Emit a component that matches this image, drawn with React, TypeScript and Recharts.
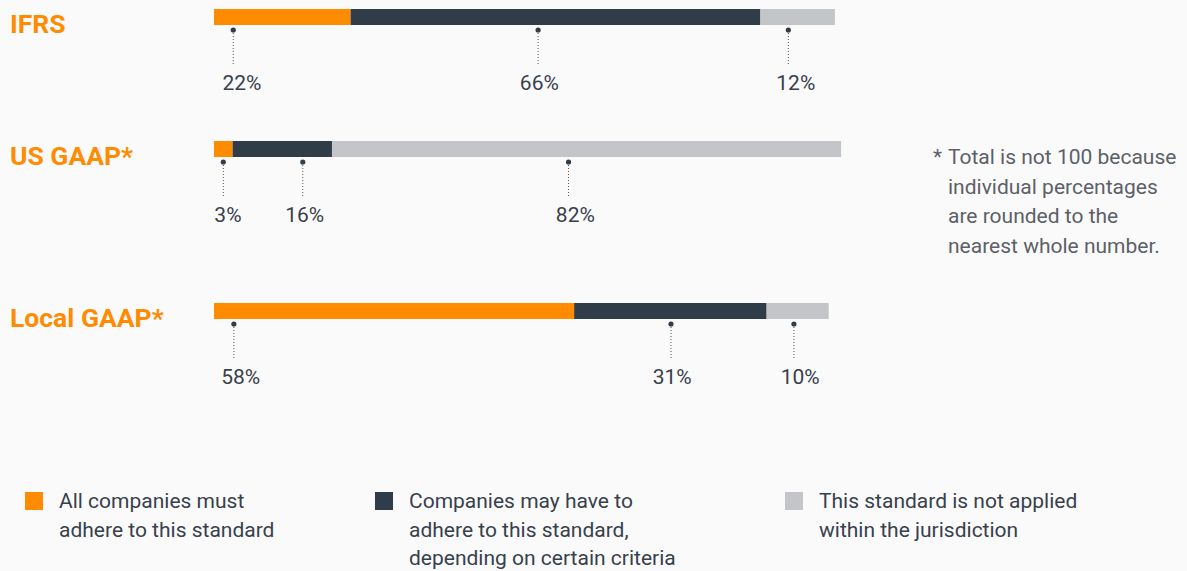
import React from "react";
import { BarChart, Bar, XAxis, YAxis, ReferenceDot } from "recharts";

// Accounting standards shown as rows
const standards = ["IFRS", "US GAAP*", "Local GAAP*"];

// Share of jurisdictions (%) per row
const allMust = [22, 3, 58];
const mayHave = [66, 16, 31];
const notApplied = [12, 82, 10];

// Where each callout sits along its bar (in % units), as placed in the original
const dotAt = [
  [3.1, 52.2, 92.5],
  [1.5, 14.3, 57.1],
  [3.2, 73.6, 93.4],
];
const labelAt = [
  [4.5, 52.4, 93.7],
  [2.25, 14.6, 58.2],
  [4.3, 73.8, 94.4],
];

const seriesKeys = ["all", "may", "not"];
const seriesLabels = [
  ["All companies must", "adhere to this standard"],
  ["Companies may have to", "adhere to this standard,", "depending on certain criteria"],
  ["This standard is not applied", "within the jurisdiction"],
];
const footnote = ["Total is not 100 because", "individual percentages", "are rounded to the", "nearest whole number."];

const COLORS = ["#ff8b00", "#303c47", "#c4c5c8"];
const TEXT = "#37414b";
const FONT = "Roboto, 'Noto Sans', sans-serif";

const rowTops = [0, 132, 294];

const CategoryTick = (props: any) => {
  const { y, payload } = props;
  return (
    <text x={10} y={y + 15.5} fill="#ff8b00" fontSize={26.5} fontWeight={700} fontFamily={FONT}>
      {payload.value}
    </text>
  );
};

const DotCallout = (props: any) => {
  const { cx, cy } = props;
  return (
    <g>
      <circle cx={cx} cy={cy + 13} r={2.6} fill="#333d47" />
      <line x1={cx} x2={cx} y1={cy + 16} y2={cy + 48} stroke="#555" strokeWidth={1} strokeDasharray="1 2" />
    </g>
  );
};

function Row({ i }: { i: number }) {
  const data = [{ name: standards[i], all: allMust[i], may: mayHave[i], not: notApplied[i] }];
  const values = [allMust[i], mayHave[i], notApplied[i]];
  return (
    <BarChart
      width={920}
      height={100}
      data={data}
      layout="vertical"
      margin={{ top: 9, right: 23, bottom: 75, left: 0 }}
      barCategoryGap={0}
    >
      <XAxis type="number" domain={[0, 110]} hide />
      <YAxis
        type="category"
        dataKey="name"
        width={214}
        axisLine={false}
        tickLine={false}
        tick={<CategoryTick />}
      />
      {seriesKeys.map((k, s) => (
        <Bar key={k} dataKey={k} stackId="s" fill={COLORS[s]} isAnimationActive={false} />
      ))}
      {values.map((v, k) => (
        <ReferenceDot key={"d" + k} x={dotAt[i][k]} y={standards[i]} shape={DotCallout} />
      ))}
      {values.map((v, k) => (
        <ReferenceDot
          key={"l" + k}
          x={labelAt[i][k]}
          y={standards[i]}
          shape={(p: any) => (
            <text x={p.cx} y={p.cy + 73} textAnchor="middle" fill={TEXT} fontSize={21} fontFamily={FONT}>
              {v}%
            </text>
          )}
        />
      ))}
    </BarChart>
  );
}

export default function App() {
  const legendLeft = [25, 375, 785];
  return (
    <div
      style={{
        position: "absolute",
        left: 0,
        top: 0,
        width: 1187,
        height: 571,
        background: "#fbfafb",
        fontFamily: FONT,
        overflow: "hidden",
      }}
    >
      {standards.map((s, i) => (
        <div key={s} style={{ position: "absolute", left: 0, top: rowTops[i] }}>
          <Row i={i} />
        </div>
      ))}

      <div
        style={{
          position: "absolute",
          left: 933,
          top: 143,
          fontSize: 21,
          lineHeight: "29.5px",
          color: "#5b6168",
          display: "flex",
        }}
      >
        <div style={{ width: 15 }}>*</div>
        <div>
          {footnote.map((l) => (
            <div key={l}>{l}</div>
          ))}
        </div>
      </div>

      {seriesKeys.map((k, s) => (
        <div
          key={k}
          style={{ position: "absolute", left: legendLeft[s], top: 487, display: "flex", color: TEXT }}
        >
          <div style={{ width: 18, height: 18, background: COLORS[s], marginTop: 5, marginRight: 16 }} />
          <div style={{ fontSize: 21, lineHeight: "28.7px" }}>
            {seriesLabels[s].map((l) => (
              <div key={l}>{l}</div>
            ))}
          </div>
        </div>
      ))}
    </div>
  );
}
